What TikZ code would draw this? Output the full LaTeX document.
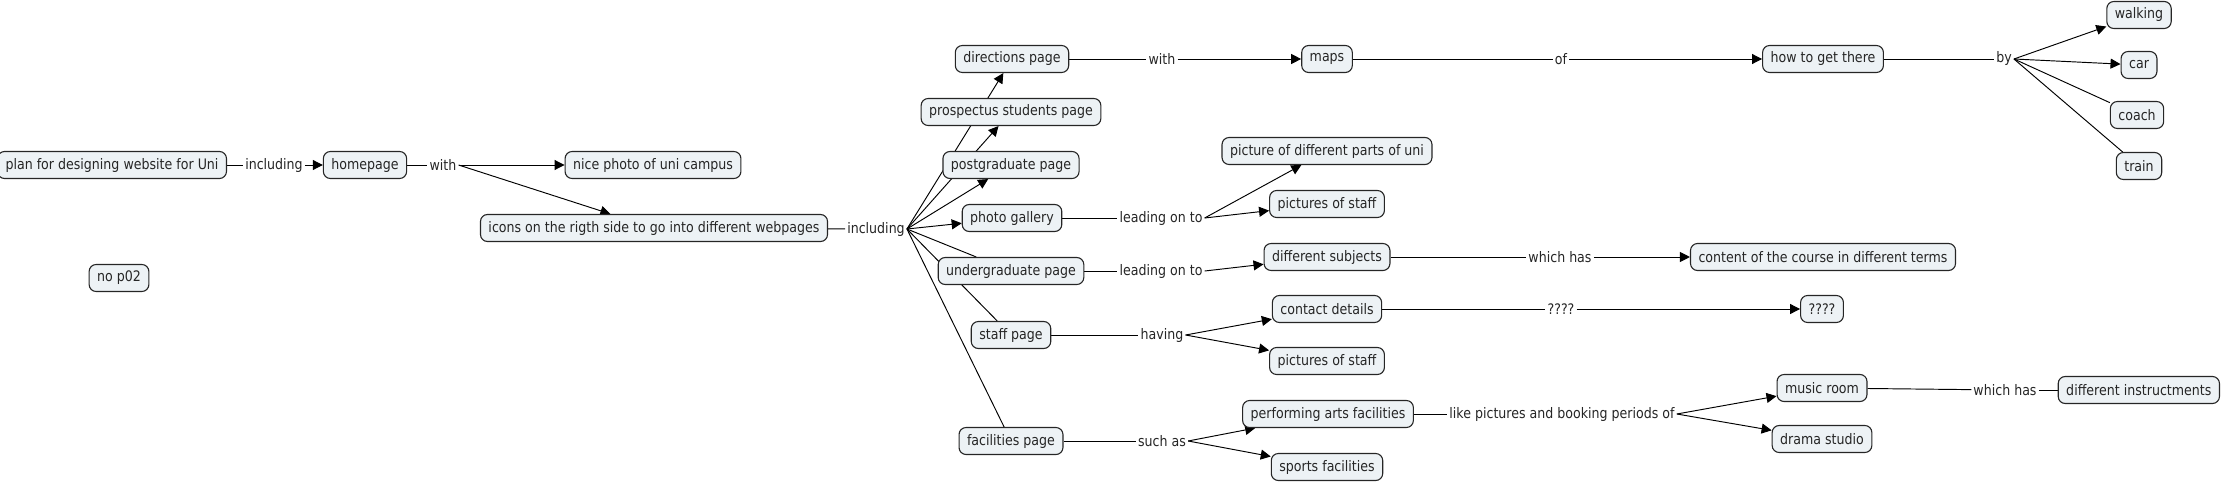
\documentclass[tikz,border=0pt]{standalone}
\usepackage{fontspec}
\setmainfont[FakeStretch=0.87]{DejaVu Sans}
\usetikzlibrary{arrows.meta,backgrounds}

\definecolor{conceptfill}{RGB}{237,242,245}

\begin{document}
\begin{tikzpicture}
            [x=1pt,y=-1pt,font=\fontsize{14.5}{17}\selectfont,
             concept/.style={rectangle,rounded corners=7pt,draw=black!85,line width=1.1pt,fill=conceptfill,inner xsep=8pt,minimum height=27pt,text=black!85},
             phrase/.style={inner sep=2pt,text=black!85},
             link/.style={line width=0.95pt},
             arrowed/.style={link,-{Triangle[length=10pt,width=10pt]}}]

            \useasboundingbox (0,0) rectangle (2221,484);

            \node[concept] (n1) at (112,165) {plan for designing website for Uni};
            \node[concept] (n2) at (365,165) {homepage};
            \node[concept] (n3) at (653,165) {nice photo of uni campus};
            \node[concept] (n4) at (654,228) {icons on the rigth side to go into different webpages};
            \node[concept] (n5) at (119,278) {no p02};
            \node[concept] (n6) at (1012,59) {directions page};
            \node[concept] (n7) at (1011,112) {prospectus students page};
            \node[concept] (n8) at (1011,165) {postgraduate page};
            \node[concept] (n9) at (1012,218) {photo gallery};
            \node[concept] (n10) at (1011,271) {undergraduate page};
            \node[concept] (n11) at (1011,335) {staff page};
            \node[concept] (n12) at (1011,441) {facilities page};
            \node[concept] (n13) at (1327,59) {maps};
            \node[concept] (n14) at (1823,59) {how to get there};
            \node[concept] (n15) at (2139,15) {walking};
            \node[concept] (n16) at (2139,65) {car};
            \node[concept] (n17) at (2137,115) {coach};
            \node[concept] (n18) at (2139,166) {train};
            \node[concept] (n19) at (1327,151) {picture of different parts of uni};
            \node[concept] (n20) at (1327,204) {pictures of staff};
            \node[concept] (n21) at (1327,257) {different subjects};
            \node[concept] (n22) at (1823,257) {content of the course in different terms};
            \node[concept] (n23) at (1327,309) {contact details};
            \node[concept] (n24) at (1822,309) {????};
            \node[concept] (n25) at (1327,361) {pictures of staff};
            \node[concept] (n26) at (1328,414) {performing arts facilities};
            \node[concept] (n27) at (1327,467) {sports facilities};
            \node[concept] (n28) at (1822,388) {music room};
            \node[concept] (n29) at (1822,439) {drama studio};
            \node[concept,anchor=east] (n30) at (2220,390) {different instructments};

            \node[phrase] (l1) at (274,165) {including};
            \node[phrase] (l2) at (443,165) {with};
            \node[phrase] (l3) at (876,229) {including};
            \node[phrase] (l4) at (1162,59) {with};
            \node[phrase] (l5) at (1561,59) {of};
            \node[phrase] (l6) at (2004,59) {by};
            \node[phrase] (l7) at (1161,218) {leading on to};
            \node[phrase] (l8) at (1161,271) {leading on to};
            \node[phrase] (l9) at (1560,257) {which has};
            \node[phrase] (l10) at (1162,335) {having};
            \node[phrase] (l11) at (1561,309) {????};
            \node[phrase] (l12) at (1162,441) {such as};
            \node[phrase] (l13) at (1562,414) {like pictures and booking periods of};
            \node[phrase] (l14) at (2005,390) {which has};

            \begin{scope}[on background layer]
              \foreach \from/\to in {n1/l1,n2/l2,n4/l3,n6/l4,n13/l5,n14/l6,n9/l7,n10/l8,n21/l9,n11/l10,n23/l11,n12/l12,n26/l13,n28/l14}
                \draw[link] (\from) -- (\to);

              \foreach \from/\to in {l3/n10,l3/n11,l3/n12,l6/n17,l6/n18,l14/n30}
                \draw[link] (\from.east) -- (\to);

              \foreach \from/\to in {l1/n2,l2/n3,l2/n4,l3/n6,l3/n7,l3/n8,l3/n9,l4/n13,l5/n14,l6/n15,l6/n16,l7/n19,l7/n20,l8/n21,l9/n22,l10/n23,l10/n25,l11/n24,l12/n26,l12/n27,l13/n28,l13/n29}
                \draw[arrowed] (\from.east) -- (\to);
            \end{scope}

          \end{tikzpicture}
\end{document}
